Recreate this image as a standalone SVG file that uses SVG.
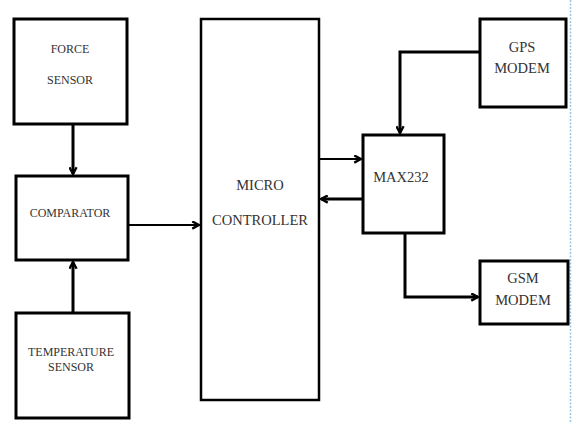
<svg xmlns="http://www.w3.org/2000/svg" width="573" height="423" viewBox="0 0 573 423">
<style>
.box{fill:#fff;stroke:#000;stroke-width:3}
.thin{fill:#fff;stroke:#000;stroke-width:2.5}
.t{font-family:"Liberation Serif","Times New Roman",serif;fill:#333;text-anchor:middle}
.s12{font-size:12px}
.s14{font-size:14.5px}
.c{fill:none;stroke:#000;stroke-width:3}
.c2{fill:none;stroke:#000;stroke-width:2}
</style>
<defs>
<marker id="ah" viewBox="0 0 10 10" refX="9" refY="5" markerWidth="9" markerHeight="9" orient="auto" markerUnits="userSpaceOnUse">
<path d="M1.5,1 L9,5 L1.5,9" fill="none" stroke="#000" stroke-width="2.6"/>
</marker>
</defs>
<rect width="573" height="423" fill="#fff"/>
<line x1="570.5" y1="0" x2="570.5" y2="423" stroke="#9dc3df" stroke-width="1.5" stroke-dasharray="2 1.5"/>
<g id="connectors">
<path class="c" d="M73,124 V174" marker-end="url(#ah)"/>
<path class="c" d="M73,313 V262" marker-end="url(#ah)"/>
<path class="c2" d="M128,225 H199" marker-end="url(#ah)"/>
<path class="c2" d="M320,159 H361" marker-end="url(#ah)"/>
<path class="c" d="M363,199 H321" marker-end="url(#ah)"/>
<path class="c" d="M480,52 H400 V133" marker-end="url(#ah)"/>
<path class="c" d="M405,233 V297 H478" marker-end="url(#ah)"/>
</g>
<g id="force-sensor">
<rect class="box" x="14" y="19" width="113" height="105"/>
<text class="t s12" x="70" y="53">FORCE</text>
<text class="t s12" x="70" y="84">SENSOR</text>
</g>
<g id="comparator">
<rect class="box" x="16" y="176" width="112" height="84"/>
<text class="t s12" x="70" y="217">COMPARATOR</text>
</g>
<g id="temperature-sensor">
<rect class="box" x="16" y="313" width="113" height="105"/>
<text class="t s12" x="71" y="356">TEMPERATURE</text>
<text class="t s12" x="71" y="371">SENSOR</text>
</g>
<g id="micro-controller">
<rect class="thin" x="201" y="19" width="118" height="381"/>
<text class="t s14" x="260" y="190">MICRO</text>
<text class="t s14" x="260" y="225">CONTROLLER</text>
</g>
<g id="max232">
<rect class="box" x="363" y="135" width="81" height="98"/>
<text class="t s14" x="401" y="182">MAX232</text>
</g>
<g id="gps-modem">
<rect class="box" x="480" y="19" width="86" height="88"/>
<text class="t s14" x="522" y="52">GPS</text>
<text class="t s14" x="522" y="73">MODEM</text>
</g>
<g id="gsm-modem">
<rect class="box" x="480" y="261" width="88" height="63"/>
<text class="t s14" x="523" y="283">GSM</text>
<text class="t s14" x="523" y="305">MODEM</text>
</g>
</svg>
